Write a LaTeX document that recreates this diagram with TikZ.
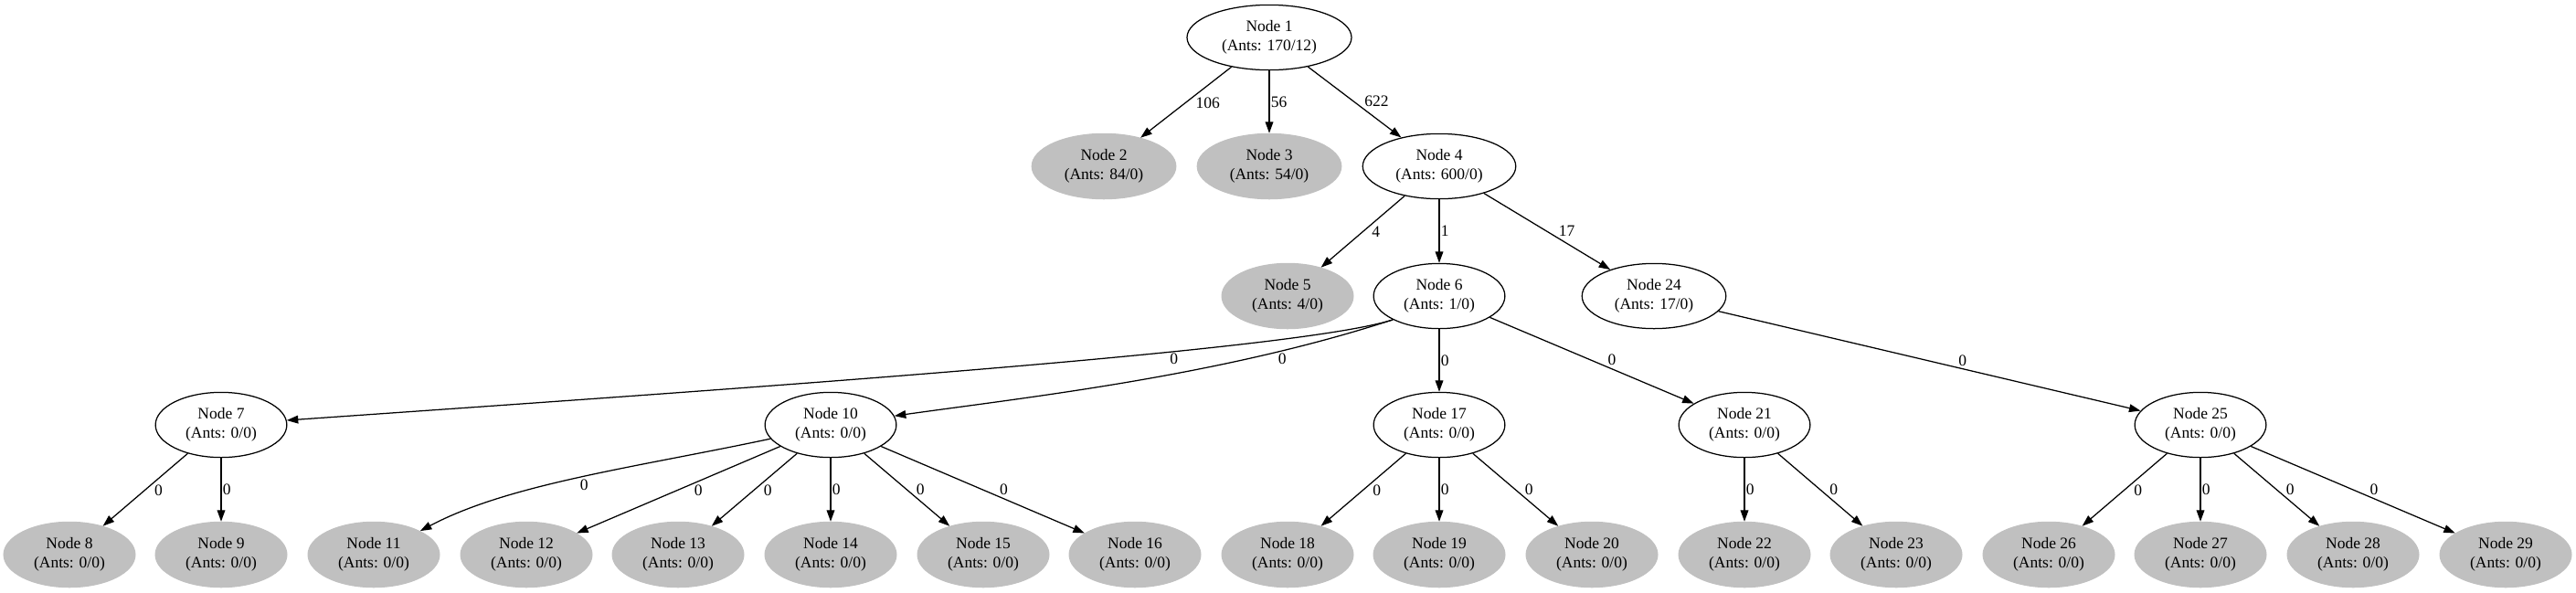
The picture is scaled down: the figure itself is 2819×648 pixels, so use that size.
\documentclass[tikz,border=0pt]{standalone}
\usepackage{fontspec}
\setmainfont{Liberation Serif}
\usetikzlibrary{arrows.meta,shapes.geometric}
\definecolor{leafgray}{RGB}{192,192,192}

\begin{document}
\begin{tikzpicture}[x=.8pt,y=.8pt,
	font=\fontsize{14}{16.8}\selectfont,
	ant/.style={ellipse,draw,line width=1pt,inner sep=0pt,align=center,minimum width=115pt,minimum height=57pt},
	leaf/.style={ant,draw=leafgray,fill=leafgray},
	link/.style={line width=1pt,-{Triangle[length=10pt,width=7pt]}},
	lbl/.style={auto,inner sep=1pt,pos=#1},
	lbl/.default=.5]
			\useasboundingbox (0,0) rectangle (2819,-648);
			
			\node[ant,minimum width=144pt] (n1) at (1389,-41) {Node 1\\(Ants: 170/12)};
			
			\node[leaf,minimum width=126pt] (n2) at (1208,-182) {Node 2\\(Ants: 84/0)};
			\node[leaf,minimum width=126pt] (n3) at (1389,-182) {Node 3\\(Ants: 54/0)};
			\node[ant,minimum width=134pt] (n4) at (1575,-182) {Node 4\\(Ants: 600/0)};
			
			\node[leaf] (n5) at (1409,-324) {Node 5\\(Ants: 4/0)};
			\node[ant] (n6) at (1575,-324) {Node 6\\(Ants: 1/0)};
			\node[ant,minimum width=126pt] (n24) at (1810,-324) {Node 24\\(Ants: 17/0)};
			
			\node[ant] (n7) at (242,-465) {Node 7\\(Ants: 0/0)};
			\node[ant] (n10) at (909,-465) {Node 10\\(Ants: 0/0)};
			\node[ant] (n17) at (1575,-465) {Node 17\\(Ants: 0/0)};
			\node[ant] (n21) at (1909,-465) {Node 21\\(Ants: 0/0)};
			\node[ant] (n25) at (2408,-465) {Node 25\\(Ants: 0/0)};
			
			\node[leaf] (n8) at (76,-607) {Node 8\\(Ants: 0/0)};
			\node[leaf] (n9) at (242,-607) {Node 9\\(Ants: 0/0)};
			\node[leaf] (n11) at (409,-607) {Node 11\\(Ants: 0/0)};
			\node[leaf] (n12) at (576,-607) {Node 12\\(Ants: 0/0)};
			\node[leaf] (n13) at (742,-607) {Node 13\\(Ants: 0/0)};
			\node[leaf] (n14) at (909,-607) {Node 14\\(Ants: 0/0)};
			\node[leaf] (n15) at (1076,-607) {Node 15\\(Ants: 0/0)};
			\node[leaf] (n16) at (1242,-607) {Node 16\\(Ants: 0/0)};
			\node[leaf] (n18) at (1409,-607) {Node 18\\(Ants: 0/0)};
			\node[leaf] (n19) at (1575,-607) {Node 19\\(Ants: 0/0)};
			\node[leaf] (n20) at (1742,-607) {Node 20\\(Ants: 0/0)};
			\node[leaf] (n22) at (1909,-607) {Node 22\\(Ants: 0/0)};
			\node[leaf] (n23) at (2075,-607) {Node 23\\(Ants: 0/0)};
			\node[leaf] (n26) at (2242,-607) {Node 26\\(Ants: 0/0)};
			\node[leaf] (n27) at (2408,-607) {Node 27\\(Ants: 0/0)};
			\node[leaf] (n28) at (2575,-607) {Node 28\\(Ants: 0/0)};
			\node[leaf] (n29) at (2742,-607) {Node 29\\(Ants: 0/0)};
			
			\draw[link] (n1) -- node[lbl=.41] {106} (n2);
			\draw[link] (n1) -- node[lbl] {56} (n3);
			\draw[link] (n1) -- node[lbl=.59] {622} (n4);
			
			\draw[link] (n4) -- node[lbl=.41] {4} (n5);
			\draw[link] (n4) -- node[lbl] {1} (n6);
			\draw[link] (n4) -- node[lbl=.58] {17} (n24);
			
			\draw[link] (n6.207) .. controls +(198:110) and +(4:500) .. node[lbl=.33] {0} (n7.4);
			\draw[link] (n6.207) .. controls +(198:200) and +(8:150) .. node[lbl=.22] {0} (n10.8);
			\draw[link] (n6) -- node[lbl] {0} (n17);
			\draw[link] (n6) -- node[lbl=.57] {0} (n21);
			\draw[link] (n24) -- node[lbl=.565] {0} (n25);
			
			\draw[link] (n7) -- node[lbl=.41] {0} (n8);
			\draw[link] (n7) -- node[lbl] {0} (n9);
			
			\draw[link] (n10.193) .. controls +(192:150) and +(28:110) .. node[lbl] {0} (n11.27);
			\draw[link] (n10) -- node[lbl=.43] {0} (n12);
			\draw[link] (n10) -- node[lbl=.41] {0} (n13);
			\draw[link] (n10) -- node[lbl] {0} (n14);
			\draw[link] (n10) -- node[lbl=.59] {0} (n15);
			\draw[link] (n10) -- node[lbl=.575] {0} (n16);
			
			\draw[link] (n17) -- node[lbl=.41] {0} (n18);
			\draw[link] (n17) -- node[lbl] {0} (n19);
			\draw[link] (n17) -- node[lbl=.59] {0} (n20);
			
			\draw[link] (n21) -- node[lbl] {0} (n22);
			\draw[link] (n21) -- node[lbl=.59] {0} (n23);
			
			\draw[link] (n25) -- node[lbl=.41] {0} (n26);
			\draw[link] (n25) -- node[lbl] {0} (n27);
			\draw[link] (n25) -- node[lbl=.59] {0} (n28);
			\draw[link] (n25) -- node[lbl=.575] {0} (n29);
\end{tikzpicture}
\end{document}
